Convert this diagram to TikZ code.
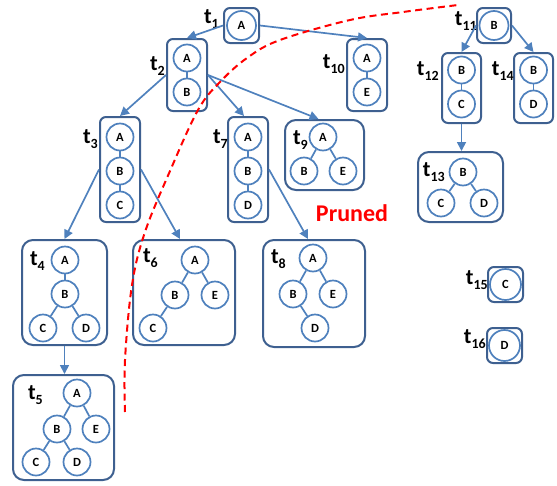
\documentclass[tikz,border=0pt]{standalone}
\usepackage{fontspec}
\setmainfont{Carlito}
\usetikzlibrary{arrows.meta}
\definecolor{boxc}{RGB}{62,96,144}
\definecolor{circc}{RGB}{79,129,189}
\newcommand\tlab[1]{t\raisebox{-5.5pt}{\fontsize{14}{14}\selectfont #1}}
\begin{document}
\begin{tikzpicture}[x=1pt,y=-1pt,
  box/.style={draw=boxc, line width=2pt, rounded corners=6pt, inner sep=0pt},
  bigbox/.style={box, rounded corners=11pt},
  vc/.style={circle, draw=circc, line width=1.7pt, minimum size=27pt, inner sep=0pt, fill=white, font=\bfseries\fontsize{12.5}{12.5}\selectfont},
  tl/.style={anchor=east, inner sep=0pt, font=\bfseries\fontsize{22}{22}\selectfont},
  arr/.style={draw=circc, line width=1.7pt, -{Triangle[length=9pt,width=9pt]}},
  tedge/.style={draw=circc, line width=1.7pt}]
\useasboundingbox (0,0) rectangle (557,485);

% boxes
\node[box, minimum width=35pt, minimum height=35pt] (t1) at (241.5,25.5) {};
\node[box, minimum width=40pt, minimum height=72pt] (t2) at (187,75) {};
\node[box, minimum width=40pt, minimum height=72pt] (t10) at (367,75) {};
\node[box, minimum width=34pt, minimum height=35pt] (t11) at (494,25.5) {};
\node[box, minimum width=39pt, minimum height=70pt] (t12) at (461.5,88) {};
\node[box, minimum width=39pt, minimum height=70pt] (t14) at (533.5,88) {};
\node[bigbox, minimum width=85pt, minimum height=70pt] (t13) at (460.5,187) {};
\node[box, minimum width=40pt, minimum height=105pt] (t3) at (120,169.5) {};
\node[box, minimum width=40pt, minimum height=105pt] (t7) at (248,169.5) {};
\node[bigbox, minimum width=79pt, minimum height=70pt] (t9) at (324.5,155) {};
\node[bigbox, minimum width=85pt, minimum height=105pt] (t4) at (64.5,292.5) {};
\node[bigbox, minimum width=102pt, minimum height=105pt] (t6) at (184,292.5) {};
\node[bigbox, minimum width=102pt, minimum height=107pt] (t8) at (314,293.5) {};
\node[bigbox, minimum width=101pt, minimum height=105pt] (t5) at (63.5,427.5) {};
\node[box, minimum width=35pt, minimum height=35pt] (t15) at (505.5,284.5) {};
\node[box, minimum width=35pt, minimum height=35pt] (t16) at (504.5,345.5) {};

% labels
\node[tl] (l1) at (219,19) {\tlab{1}};
\node[tl] (l2) at (165,66) {\tlab{2}};
\node[tl] (l10) at (345,64) {\tlab{10}};
\node[tl] (l11) at (477,21) {\tlab{11}};
\node[tl] (l12) at (439,71) {\tlab{12}};
\node[tl] (l14) at (514,71) {\tlab{14}};
\node[tl] (l13) at (445,172) {\tlab{13}};
\node[tl] (l3) at (98,139) {\tlab{3}};
\node[tl] (l7) at (228,139) {\tlab{7}};
\node[tl] (l9) at (308,140) {\tlab{9}};
\node[tl] (l4) at (45,261) {\tlab{4}};
\node[tl] (l6) at (158,258) {\tlab{6}};
\node[tl] (l8) at (286,259) {\tlab{8}};
\node[tl] (l5) at (43,395) {\tlab{5}};
\node[tl] (l15) at (488,280) {\tlab{15}};
\node[tl] (l16) at (486,339) {\tlab{16}};

% vertices
\node[vc, minimum size=29pt] (t1a) at (t1) {A};
\node[vc] (t2a) at (187,58) {A};
\node[vc] (t2b) at (187,92) {B};
\node[vc] (t10a) at (367,58) {A};
\node[vc] (t10e) at (367,92) {E};
\node[vc, minimum size=29pt] (t11b) at (t11) {B};
\node[vc] (t12b) at (461.5,70) {B};
\node[vc] (t12c) at (461.5,104) {C};
\node[vc] (t14b) at (533.5,70) {B};
\node[vc] (t14d) at (533.5,104) {D};
\node[vc] (t13b) at (463,172) {B};
\node[vc] (t13c) at (441,203) {C};
\node[vc] (t13d) at (484,203) {D};
\node[vc] (t3a) at (120,137) {A};
\node[vc] (t3b) at (120,171) {B};
\node[vc] (t3c) at (120,205) {C};
\node[vc] (t7a) at (248,137) {A};
\node[vc] (t7b) at (248,171) {B};
\node[vc] (t7d) at (248,205) {D};
\node[vc] (t9a) at (323,137) {A};
\node[vc] (t9b) at (304,171) {B};
\node[vc] (t9e) at (343,171) {E};
\node[vc] (t4a) at (65,260) {A};
\node[vc] (t4b) at (65,294) {B};
\node[vc] (t4c) at (43,328) {C};
\node[vc] (t4d) at (86,328) {D};
\node[vc] (t6a) at (195,260) {A};
\node[vc] (t6b) at (175,295) {B};
\node[vc] (t6e) at (215,295) {E};
\node[vc] (t6c) at (153,328) {C};
\node[vc] (t8a) at (313,258) {A};
\node[vc] (t8b) at (293,294) {B};
\node[vc] (t8e) at (333,294) {E};
\node[vc] (t8d) at (315,328) {D};
\node[vc] (t5a) at (77,393) {A};
\node[vc] (t5b) at (57,429) {B};
\node[vc] (t5e) at (96,429) {E};
\node[vc] (t5c) at (36,462) {C};
\node[vc] (t5d) at (77,462) {D};
\node[vc, minimum size=31pt] (t15c) at (t15) {C};
\node[vc, minimum size=31pt] (t16d) at (t16) {D};

% tree edges
\draw[tedge] (t2a) -- (t2b);
\draw[tedge] (t10a) -- (t10e);
\draw[tedge] (t12b) -- (t12c);
\draw[tedge] (t14b) -- (t14d);
\draw[tedge] (t13b) -- (t13c);
\draw[tedge] (t13b) -- (t13d);
\draw[tedge] (t3a) -- (t3b);
\draw[tedge] (t3b) -- (t3c);
\draw[tedge] (t7a) -- (t7b);
\draw[tedge] (t7b) -- (t7d);
\draw[tedge] (t9a) -- (t9b);
\draw[tedge] (t9a) -- (t9e);
\draw[tedge] (t4a) -- (t4b);
\draw[tedge] (t4b) -- (t4c);
\draw[tedge] (t4b) -- (t4d);
\draw[tedge] (t6a) -- (t6b);
\draw[tedge] (t6a) -- (t6e);
\draw[tedge] (t6b) -- (t6c);
\draw[tedge] (t8a) -- (t8b);
\draw[tedge] (t8a) -- (t8e);
\draw[tedge] (t8b) -- (t8d);
\draw[tedge] (t5a) -- (t5b);
\draw[tedge] (t5a) -- (t5e);
\draw[tedge] (t5b) -- (t5c);
\draw[tedge] (t5b) -- (t5d);

% arrows
\draw[arr] (t1.west) -- (t2.north);
\draw[arr] (t1.east) -- (t10.north);
\draw[arr] (t11.west) -- (t12.north);
\draw[arr] (t11.east) -- (t14.north);
\draw[arr] (t12.south) -- (t12.south |- t13.north);
\draw[arr] (t2.west) -- (t3.north);
\draw[arr] (t2.east) -- ([xshift=-4pt]t7.north);
\draw[arr] (t2.east) -- ([xshift=-6pt]t9.north);
\draw[arr] (t3.west) -- (t4.north);
\draw[arr] (t3.east) -- ([xshift=-4pt]t6.north);
\draw[arr] (t7.east) -- ([xshift=-6pt]t8.north);
\draw[arr] (t4.south) -- (t4.south |- t5.north);

% pruned boundary
\draw[red, line width=2pt, dash pattern=on 7pt off 4.5pt] plot[smooth, tension=0.6] coordinates {(125,412) (125,360) (132,285) (145,232) (170,171) (198,110) (220,82) (247,58) (280,40) (350,20) (403,12) (458,5)};
\node[text=red, inner sep=0pt, font=\bfseries\fontsize{24}{24}\selectfont] (pr) at (352,213) {Pruned};
\end{tikzpicture}
\end{document}
